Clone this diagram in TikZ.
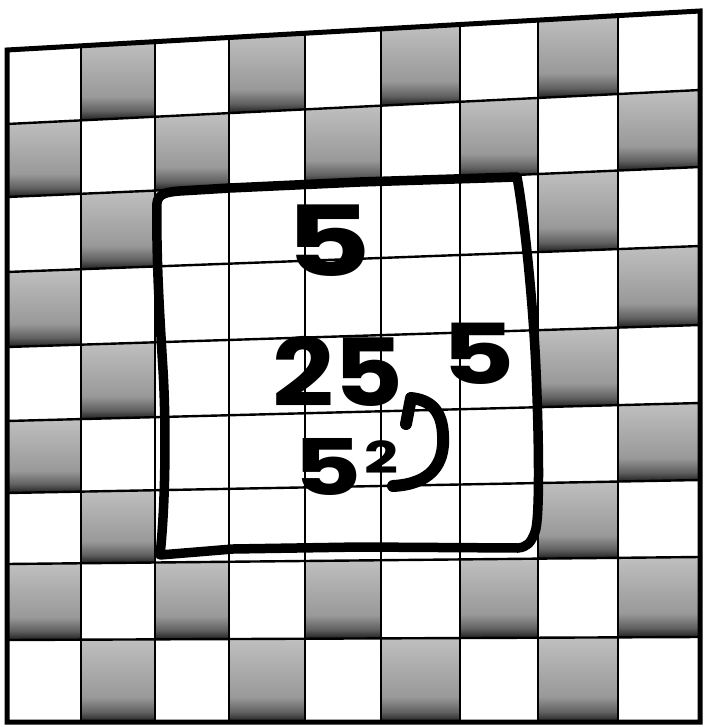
\documentclass[tikz,border=0pt]{standalone}
\usepackage{fontspec}
\newfontfamily\handfont[FakeStretch=1.15]{Poppins}
\newfontfamily\handwide[FakeStretch=1.35]{Poppins}
\pgfdeclareverticalshading{cellshade}{100bp}{color(0bp)=(black!88); color(25bp)=(black!88); color(31bp)=(black!62); color(40bp)=(black!40); color(75bp)=(black!25); color(100bp)=(black!25)}
\tikzset{
  gridline/.style={line width=2.4pt, black},
  borderline/.style={line width=5pt, black, line join=miter},
  markerline/.style={line width=9.5pt, black, line cap=round, line join=round},
  hookarrow/.style={line width=12pt, black, line cap=round, line join=round},
  handtext/.style={inner sep=0pt, anchor=center, text=black},
}
\begin{document}
\begin{tikzpicture}[x=1pt,y=-1pt]
\useasboundingbox (0,0) rectangle (708,727);
\fill[white] (0,0) rectangle (708,727);
\def\xs{{7,81,155,229,305,381,460,538,618,700}}
\def\yl{{50,124,197,272,347,421,493,564,640,722}}
\def\yr{{11,90,167,246,325,403,480,557,637,722}}
\foreach \k in {0,...,9}{
  \foreach \j in {0,...,9}{
    \pgfmathsetmacro\xx{\xs[\j]}
    \pgfmathsetmacro\tt{(\xx-7)/693}
    \pgfmathsetmacro\yy{\yl[\k]+(\yr[\k]-\yl[\k])*\tt}
    \coordinate (p-\k-\j) at (\xx,\yy);
  }
}
% shaded cells
\foreach \r in {0,...,8}{
  \foreach \c in {0,...,8}{
    \pgfmathtruncatemacro\odd{mod(\r+\c,2)}
    \pgfmathtruncatemacro\inner{and(and(\r>1,\r<7),and(\c>1,\c<7))}
    \pgfmathtruncatemacro\rr{\r+1}
    \pgfmathtruncatemacro\cc{\c+1}
    \ifnum\odd=1 \ifnum\inner=0
      \shade[shading=cellshade] (p-\r-\c) -- (p-\r-\cc) -- (p-\rr-\cc) -- (p-\rr-\c) -- cycle;
    \fi\fi
  }
}
% grid lines
\foreach \k in {1,...,8}{
  \draw[gridline] (p-\k-0) -- (p-\k-9);
  \draw[gridline] (p-0-\k) -- (p-9-\k);
}
\draw[borderline] (p-0-0) -- (p-0-9) -- (p-9-9) -- (p-9-0) -- cycle;
% hand-drawn outline of the inner square
\draw[markerline] (157,203) .. controls (158,194) and (166,192) .. (180,191)
  -- (230,188) -- (360,182) -- (517,177)
  .. controls (524,215) and (533,300) .. (536,370)
  .. controls (539,440) and (540,520) .. (535,532)
  .. controls (531,543) and (527,547) .. (518,548)
  -- (360,547) -- (233,549) -- (160,555)
  .. controls (166,500) and (166,420) .. (163,370)
  .. controls (160,320) and (156,260) .. cycle;
% handwritten numbers
\node[handtext, font=\handwide\bfseries\fontsize{98}{98}\selectfont] (five) at (328,241) {5};
\node[handtext, font=\handfont\bfseries\fontsize{94}{94}\selectfont] (tf) at (338,371) {25};
\node[handtext, font=\handwide\bfseries\fontsize{84}{84}\selectfont] (fiveb) at (478,354) {5};
\node[handtext, font=\handwide\bfseries\fontsize{78}{78}\selectfont] (sq) at (346,467) {5\hspace{3pt}\raisebox{22pt}{\fontsize{44}{44}\selectfont 2}};
% curved arrow
\coordinate (aend) at (411,398);
\coordinate (astart) at (393,486);
\coordinate (abarb) at (406,424);
\draw[hookarrow] (abarb) -- (aend) .. controls (430,400) and (442,410) .. (443,435)
  .. controls (445,465) and (430,484) .. (astart);
\end{tikzpicture}
\end{document}
